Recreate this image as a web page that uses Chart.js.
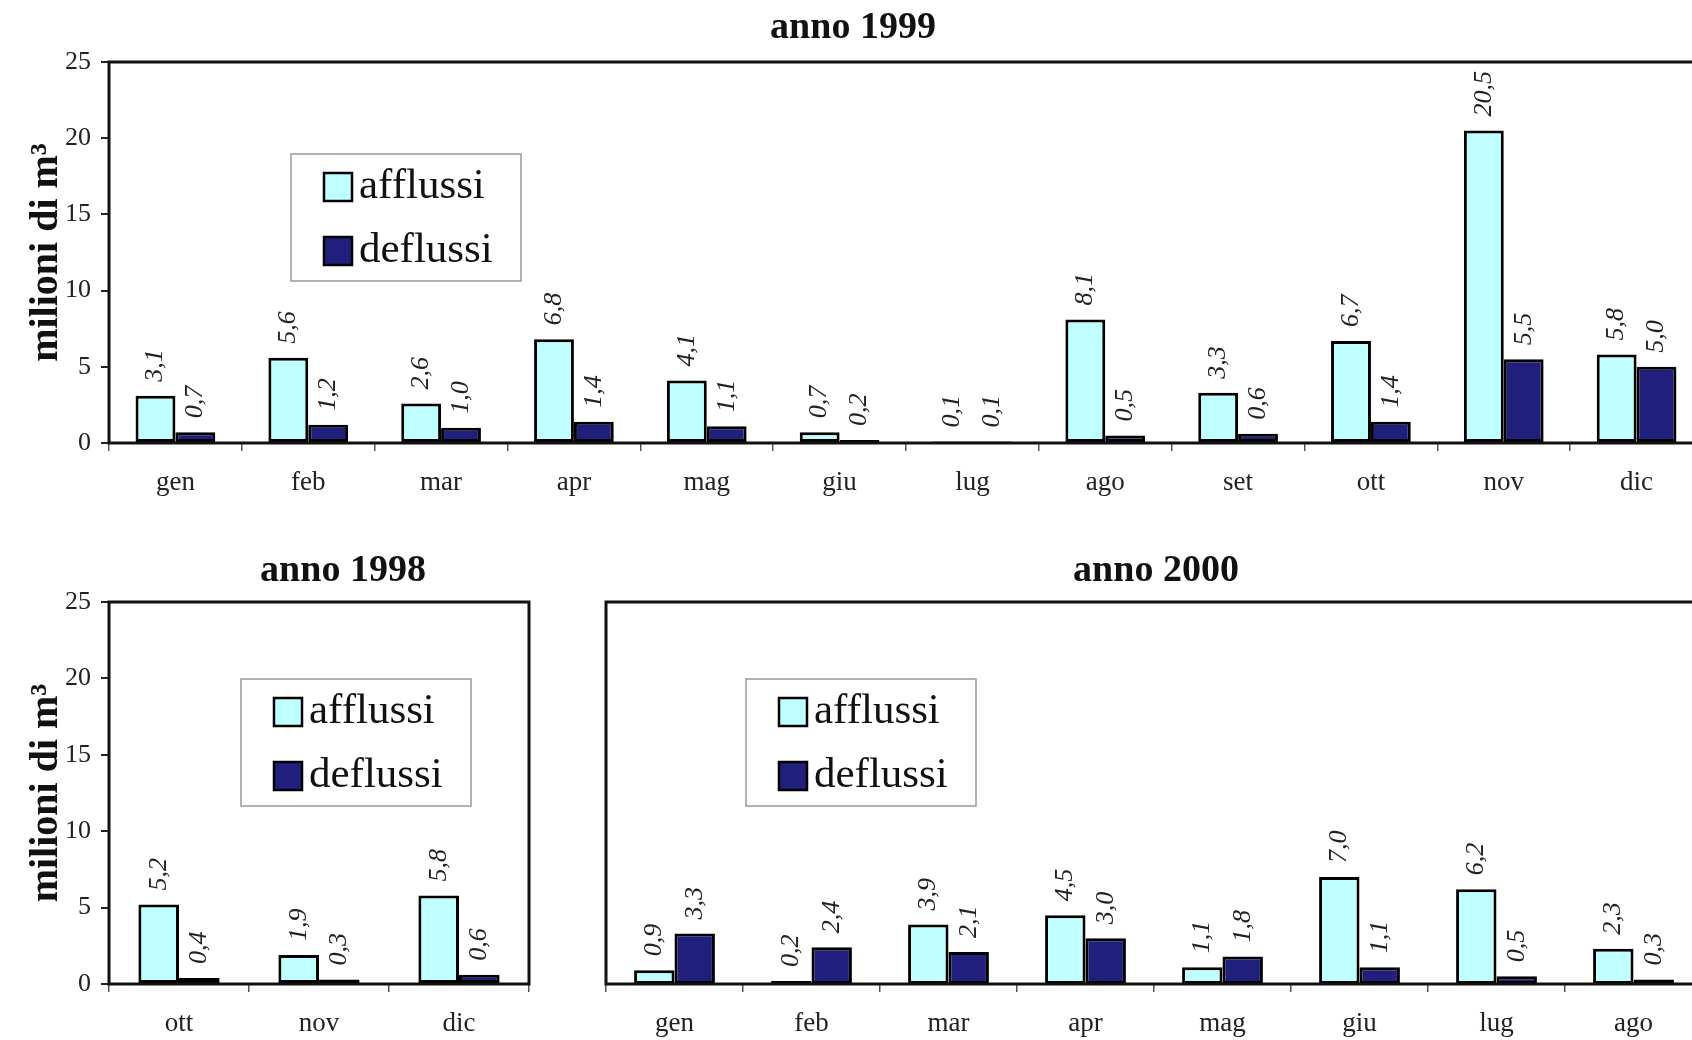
<!DOCTYPE html>
<html>
<head>
<meta charset="utf-8">
<script src="https://cdn.jsdelivr.net/npm/chart.js@4/dist/chart.umd.min.js"></script>
<style>
  html, body { margin: 0; padding: 0; background: #fff; }
  #wrap { position: relative; width: 1692px; height: 1040px; overflow: hidden; background: #fff; }
  canvas { position: absolute; }
</style>
</head>
<body>
<div id="wrap">
  <canvas id="c1999" width="1720" height="503" style="left:0;top:0;width:1720px;height:503px"></canvas>
  <canvas id="c1998" width="560" height="504" style="left:0;top:540px;width:560px;height:504px"></canvas>
  <canvas id="c2000" width="1160" height="504" style="left:560px;top:540px;width:1160px;height:504px"></canvas>
</div>
<script>
// dati (milioni di m3)
const mesi1999 = ['gen', 'feb', 'mar', 'apr', 'mag', 'giu', 'lug', 'ago', 'set', 'ott', 'nov', 'dic'];
const afflussi1999 = [3.1, 5.6, 2.6, 6.8, 4.1, 0.7, 0.1, 8.1, 3.3, 6.7, 20.5, 5.8];
const deflussi1999 = [0.7, 1.2, 1.0, 1.4, 1.1, 0.2, 0.1, 0.5, 0.6, 1.4, 5.5, 5.0];

const mesi1998 = ['ott', 'nov', 'dic'];
const afflussi1998 = [5.2, 1.9, 5.8];
const deflussi1998 = [0.4, 0.3, 0.6];

const mesi2000 = ['gen', 'feb', 'mar', 'apr', 'mag', 'giu', 'lug', 'ago'];
const afflussi2000 = [0.9, 0.2, 3.9, 4.5, 1.1, 7.0, 6.2, 2.3];
const deflussi2000 = [3.3, 2.4, 2.1, 3.0, 1.8, 1.1, 0.5, 0.3];

const yTicks = [0, 5, 10, 15, 20, 25];

const SERIF = '"Liberation Serif", "Times New Roman", serif';
const colAfflussi = '#c0ffff';
const colDeflussi = '#20207c';

// cornice, titolo, etichette dei valori e legenda
const extras = {
    id: 'extras',
    afterDatasetsDraw(chart, args, opts) {
        const ctx = chart.ctx;
        const a = chart.chartArea;
        ctx.save();

        // etichette ruotate sopra le barre
        ctx.fillStyle = '#222';
        ctx.font = 'italic 26px ' + SERIF;
        ctx.textAlign = 'left';
        ctx.textBaseline = 'middle';
        chart.data.datasets.forEach((ds, i) => {
            chart.getDatasetMeta(i).data.forEach((bar, j) => {
                const txt = ds.data[j].toFixed(1).replace('.', ',');
                ctx.save();
                ctx.translate(bar.x, bar.y - 14);
                ctx.rotate(-Math.PI / 2);
                ctx.fillText(txt, 0, 0);
                ctx.restore();
            });
        });

        // cornice
        ctx.strokeStyle = '#111';
        ctx.lineWidth = 3;
        ctx.strokeRect(a.left, a.top, a.right - a.left, a.bottom - a.top);

        // titolo
        ctx.fillStyle = '#111';
        ctx.font = 'bold 38px ' + SERIF;
        ctx.textAlign = 'center';
        ctx.fillText(opts.title, opts.titleX, opts.titleY);

        // legenda
        const lx = opts.legendX, ly = opts.legendY;
        ctx.fillStyle = '#fff';
        ctx.fillRect(lx, ly, 230, 127);
        ctx.strokeStyle = '#999';
        ctx.lineWidth = 1.5;
        ctx.strokeRect(lx, ly, 230, 127);
        ctx.font = '43px ' + SERIF;
        ctx.textAlign = 'left';
        chart.data.datasets.forEach((ds, i) => {
            const sy = ly + 19 + i * 64;
            ctx.fillStyle = ds.backgroundColor;
            ctx.fillRect(lx + 33, sy, 28, 28);
            ctx.strokeStyle = '#000';
            ctx.lineWidth = 2.5;
            ctx.strokeRect(lx + 33, sy, 28, 28);
            ctx.fillStyle = '#111';
            ctx.fillText(ds.label, lx + 68, sy + 14);
        });
        ctx.restore();
    }
};

function buildChart(id, labels, aff, def, cfg) {
    const yAxis = {
        display: cfg.showY,
        min: 0,
        max: 25,
        afterBuildTicks: s => { s.ticks = yTicks.map(v => ({ value: v })); },
        afterFit: s => { s.width = cfg.showY ? 109 : 0; },
        grid: { drawOnChartArea: false, drawTicks: true, tickLength: 8, color: '#222', lineWidth: 2 },
        border: { display: false },
        ticks: { color: '#222', padding: 10, font: { family: SERIF, size: 26 } },
        title: {
            display: true,
            text: 'milioni di m³',
            color: '#111',
            padding: { top: 23, bottom: 0 },
            font: { family: SERIF, size: 40, weight: 'bold' }
        }
    };
    return new Chart(document.getElementById(id), {
        type: 'bar',
        data: {
            labels: labels,
            datasets: [
                { label: 'afflussi', data: aff, backgroundColor: colAfflussi, borderColor: '#000', borderWidth: 3, borderSkipped: false },
                { label: 'deflussi', data: def, backgroundColor: colDeflussi, borderColor: '#000', borderWidth: 3, borderSkipped: false }
            ]
        },
        options: {
            responsive: false,
            animation: false,
            devicePixelRatio: 1,
            layout: { padding: cfg.padding },
            datasets: { bar: { categoryPercentage: cfg.catPct, barPercentage: 1.0 } },
            scales: {
                x: {
                    afterFit: s => { s.height = 60; },
                    grid: { offset: true, drawOnChartArea: false, drawTicks: true, tickLength: 8, color: '#555', lineWidth: 1.5 },
                    border: { display: false },
                    ticks: { color: '#222', padding: 16, font: { family: SERIF, size: 27 } }
                },
                y: yAxis
            },
            plugins: {
                legend: { display: false },
                tooltip: { enabled: false },
                extras: cfg.extras
            }
        },
        plugins: [extras]
    });
}

buildChart('c1999', mesi1999, afflussi1999, deflussi1999, {
    showY: true,
    catPct: 0.6,
    padding: { top: 62, right: 17, left: 0, bottom: 0 },
    extras: { title: 'anno 1999', titleX: 853, titleY: 28, legendX: 291, legendY: 154 }
});

buildChart('c1998', mesi1998, afflussi1998, deflussi1998, {
    showY: true,
    catPct: 0.58,
    padding: { top: 62, right: 31, left: 0, bottom: 0 },
    extras: { title: 'anno 1998', titleX: 343, titleY: 31, legendX: 241, legendY: 139 }
});

buildChart('c2000', mesi2000, afflussi2000, deflussi2000, {
    showY: false,
    catPct: 0.59,
    padding: { top: 62, right: 18, left: 46, bottom: 0 },
    extras: { title: 'anno 2000', titleX: 596, titleY: 31, legendX: 186, legendY: 139 }
});
</script>
</body>
</html>
